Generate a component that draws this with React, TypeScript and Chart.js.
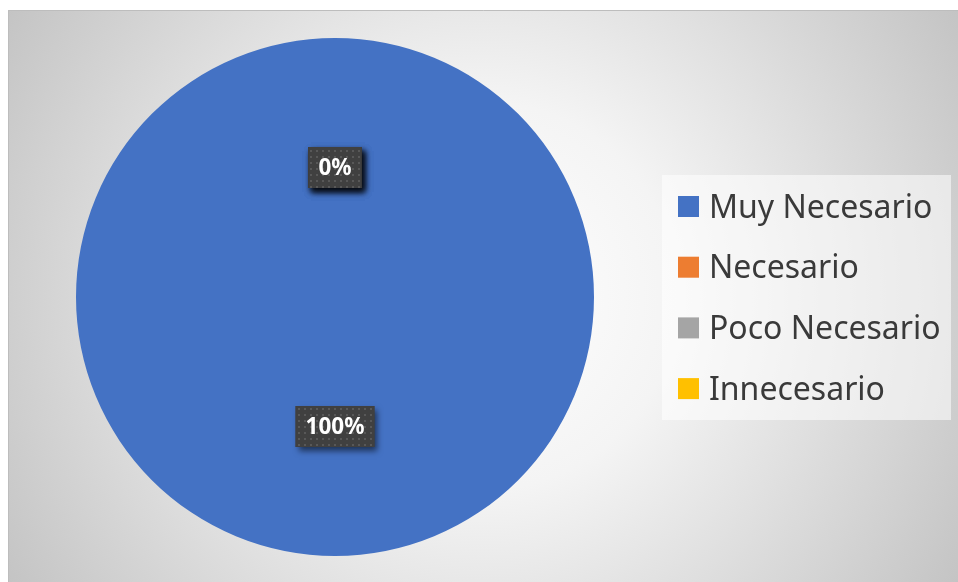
import React, { useEffect, useRef } from "react";
import { Chart, registerables } from "chart.js";

Chart.register(...registerables);

const categories = ["Muy Necesario", "Necesario", "Poco Necesario", "Innecesario"];
const values = [100, 0, 0, 0];
const sliceColors = ["#4472C4", "#ED7D31", "#A5A5A5", "#FFC000"];

function makePattern(ctx: CanvasRenderingContext2D) {
  const c = document.createElement("canvas");
  c.width = 6;
  c.height = 6;
  const p = c.getContext("2d")!;
  p.fillStyle = "#404040";
  p.fillRect(0, 0, 6, 6);
  p.fillStyle = "#585858";
  p.fillRect(2, 2, 2, 2);
  return ctx.createPattern(c, "repeat");
}

const bgPlugin = {
  id: "bgPlugin",
  beforeDraw(chart: any) {
    const { ctx, width, height } = chart;
    ctx.save();
    const cx = width / 2;
    const cy = height / 2;
    const r = Math.sqrt(cx * cx + cy * cy);
    const g = ctx.createRadialGradient(cx, cy, 0, cx, cy, r);
    g.addColorStop(0, "#ffffff");
    g.addColorStop(0.35, "#f4f4f4");
    g.addColorStop(1, "#c4c4c4");
    ctx.fillStyle = g;
    ctx.fillRect(0, 0, width, height);
    ctx.strokeStyle = "#bdbdbd";
    ctx.lineWidth = 1;
    ctx.beginPath();
    ctx.moveTo(0.5, height);
    ctx.lineTo(0.5, 0.5);
    ctx.lineTo(width, 0.5);
    ctx.stroke();
    ctx.restore();
  },
};

const labelPlugin = {
  id: "labelPlugin",
  afterDatasetsDraw(chart: any) {
    const { ctx } = chart;
    const meta = chart.getDatasetMeta(0);
    const data = chart.data.datasets[0].data as number[];
    const total = data.reduce((a, b) => a + b, 0);
    const pattern = makePattern(ctx);
    ctx.save();
    ctx.font = "bold 22.5px 'Noto Sans'";
    for (let i = meta.data.length - 1; i >= 0; i--) {
      const arc = meta.data[i];
      const pos = arc.tooltipPosition();
      const txt = Math.round((data[i] / total) * 100) + "%";
      const tw = ctx.measureText(txt).width;
      const bw = tw + 20;
      const bh = 41;
      const x = pos.x - bw / 2;
      const y = pos.y - bh / 2;
      ctx.save();
      ctx.shadowColor = "rgba(0,0,0,0.55)";
      ctx.shadowBlur = 6;
      ctx.shadowOffsetX = 3;
      ctx.shadowOffsetY = 4;
      ctx.fillStyle = "#404040";
      ctx.fillRect(x, y, bw, bh);
      ctx.restore();
      ctx.fillStyle = pattern || "#404040";
      ctx.fillRect(x, y, bw, bh);
      ctx.fillStyle = "#ffffff";
      ctx.textAlign = "center";
      ctx.textBaseline = "middle";
      ctx.fillText(txt, pos.x, pos.y + 1);
    }
    ctx.restore();
  },
};

const legendPlugin = {
  id: "legendPlugin",
  afterDraw(chart: any) {
    const { ctx } = chart;
    const labels = chart.data.labels as string[];
    const colors = chart.data.datasets[0].backgroundColor as string[];
    ctx.save();
    ctx.fillStyle = "rgba(255,255,255,0.55)";
    ctx.fillRect(654, 165, 289, 245);
    ctx.font = "32px 'Noto Sans'";
    ctx.textBaseline = "alphabetic";
    ctx.textAlign = "left";
    labels.forEach((lab, i) => {
      const cy = 196.5 + i * 60.7;
      ctx.fillStyle = colors[i];
      ctx.fillRect(670, cy - 10.5, 21, 21);
      ctx.fillStyle = "#3a3a3a";
      ctx.fillText(lab, 701, cy + 11);
    });
    ctx.restore();
  },
};

export default function App() {
  const ref = useRef<HTMLCanvasElement>(null);
  useEffect(() => {
    const chart = new Chart(ref.current!, {
      type: "pie",
      data: {
        labels: categories,
        datasets: [
          {
            data: values,
            backgroundColor: sliceColors,
            borderWidth: 0,
          },
        ],
      },
      options: {
        animation: false,
        responsive: false,
        layout: { padding: { left: 68, top: 28, bottom: 26, right: 364 } },
        plugins: {
          legend: { display: false },
          tooltip: { enabled: false },
        },
      },
      plugins: [bgPlugin, labelPlugin, legendPlugin],
    });
    return () => chart.destroy();
  }, []);
  return (
    <div style={{ position: "fixed", left: 8, top: 10, width: 950, height: 572 }}>
      <canvas ref={ref} width={950} height={572} style={{ display: "block" }} />
    </div>
  );
}
